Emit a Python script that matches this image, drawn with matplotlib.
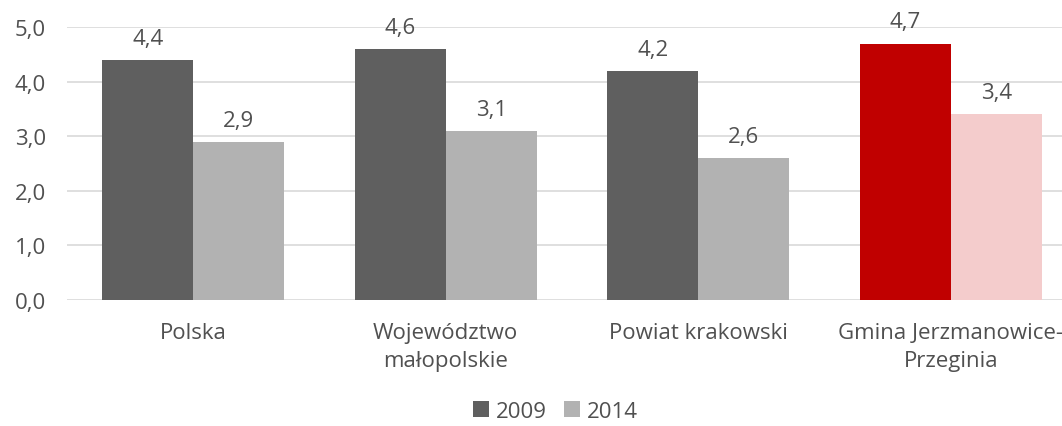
import matplotlib.pyplot as plt
import numpy as np

plt.rcParams["font.family"] = ["Open Sans", "DejaVu Sans"]

categories = ["Polska", "Województwo\nmałopolskie", "Powiat krakowski",
              "Gmina Jerzmanowice-\nPrzeginia"]
values_2009 = [4.4, 4.6, 4.2, 4.7]
values_2014 = [2.9, 3.1, 2.6, 3.4]
years = ["2009", "2014"]

dark = ["#5f5f5f", "#5f5f5f", "#5f5f5f", "#c00000"]
light = ["#b2b2b2", "#b2b2b2", "#b2b2b2", "#f4cccc"]
text_color = "#505050"

fig = plt.figure(figsize=(10.62, 4.27), dpi=100)
ax = fig.add_axes([0.063, 0.295, 0.937, 0.639])

x = np.arange(len(categories))
w = 0.36
b1 = ax.bar(x - w / 2, values_2009, w, color=dark, label=years[0], zorder=3)
b2 = ax.bar(x + w / 2, values_2014, w, color=light, label=years[1], zorder=3)

for bars, vals in ((b1, values_2009), (b2, values_2014)):
    for rect, v in zip(bars, vals):
        ax.annotate(f"{v:.1f}".replace(".", ","),
                    (rect.get_x() + rect.get_width() / 2, v),
                    xytext=(0, 8), textcoords="offset points",
                    ha="center", va="bottom", fontsize=16, color=text_color)

ax.set_xlim(-0.5, 3.44)
ax.set_ylim(0, 5)
ax.set_yticks(np.arange(0, 5.1, 1))
ax.set_yticklabels([f"{t:.1f}".replace(".", ",") for t in np.arange(0, 5.1, 1)])
ax.set_xticks(x)
ax.set_xticklabels(categories, linespacing=1.45)
ax.tick_params(axis="both", length=0, labelsize=16, colors=text_color)
ax.tick_params(axis="x", pad=16)
ax.tick_params(axis="y", pad=15)
ax.grid(axis="y", color="#d9d9d9", linewidth=1.2, zorder=0)
for s in ax.spines.values():
    s.set_visible(False)

fig.legend(handles=[b1[0], b2[0]], labels=years, loc="center",
           bbox_to_anchor=(0.523, 0.035), ncol=2, frameon=False,
           fontsize=16, labelcolor=text_color, handlelength=0.7,
           handleheight=0.7, handletextpad=0.3, columnspacing=0.8)

fig.savefig("out.png", dpi=100)
